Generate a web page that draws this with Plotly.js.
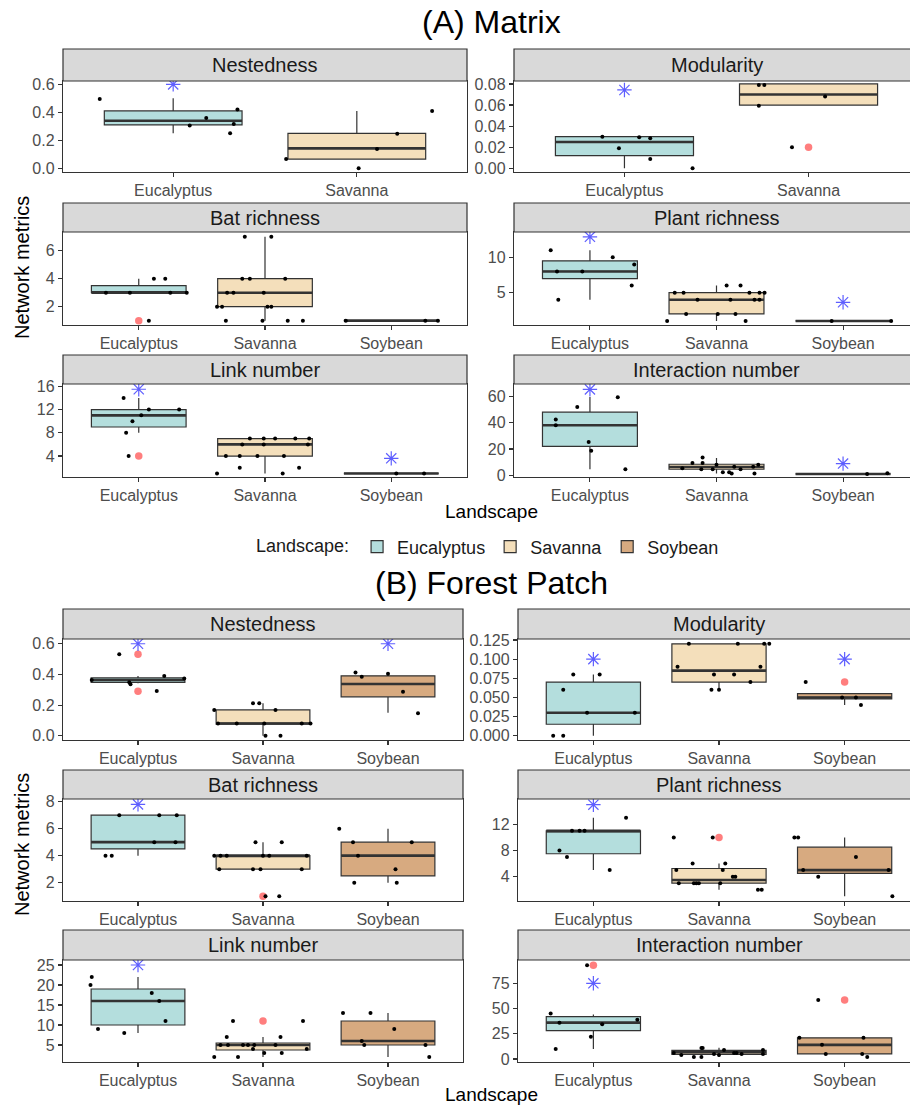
<!DOCTYPE html>
<html><head><meta charset="utf-8">
<script src="https://cdn.plot.ly/plotly-3.0.1.min.js"></script>
<style>html,body{margin:0;padding:0;overflow:hidden;background:#fff;width:910px;height:1106px}#chart{width:921px;height:1106px}</style>
</head><body><div id="chart"></div>
<script>
// ---------------- DATA ----------------
const landscapes = ['Eucalyptus', 'Savanna', 'Soybean'];
const metrics = ['Nestedness', 'Modularity', 'Bat richness', 'Plant richness', 'Link number', 'Interaction number'];
const sectionTitles = ['(A) Matrix', '(B) Forest Patch'];

// (A) Matrix: box statistics per metric, per landscape
const A_q1  = [[0.31, 0.066], [0.012, 0.06], [3, 2, 1], [7, 2, 1], [9, 4, 1], [22, 4.6, 1]];
const A_med = [[0.34, 0.143], [0.025, 0.07], [3, 3, 1], [8, 4, 1], [11, 6, 1], [38, 6.3, 1]];
const A_q3  = [[0.41, 0.25], [0.03, 0.08], [3.5, 4, 1], [9.5, 5, 1], [12, 7, 1], [48, 8.4, 1]];
const A_lo  = [[0.25, 0.066], [0, 0.06], [3, 1, 1], [4, 1, 1], [8, 1, 1], [4.6, 1.3, 1]];
const A_hi  = [[0.5, 0.41], [0.03, 0.08], [4, 7, 1], [11, 6, 1], [14, 7, 1], [59.5, 13.2, 1]];
// (A) jittered observations (x = landscape position incl. jitter)
const A_ptX = [
  [0.60, 1.09, 1.18, 1.33, 1.31, 1.35, 1.615, 2.01, 2.11, 2.22, 2.41],
  [0.88, 0.97, 1.08, 1.14, 1.14, 1.37, 1.73, 1.76, 1.73, 2.09, 1.91],
  [0.74, 0.93, 1.12, 1.21, 1.25, 1.38, 1.08, 1.84, 2.05, 1.82, 1.88, 2.16, 1.70, 1.75, 1.99, 1.62, 1.66, 2.02, 2.05, 1.69, 1.98, 2.18, 2.30, 2.64, 3.27, 3.37],
  [0.69, 0.74, 0.94, 0.75, 1.18, 1.35, 1.33, 1.67, 1.74, 1.85, 2.11, 2.08, 2.19, 2.26, 2.34, 2.38, 2.30, 2.34, 1.76, 2.01, 2.15, 1.61, 2.23, 2.91, 3.38],
  [0.88, 0.95, 0.90, 1.02, 1.08, 1.32, 0.92, 1.62, 1.69, 1.80, 1.94, 2.15, 1.80, 2.27, 2.14, 1.82, 1.99, 2.34, 1.88, 1.99, 2.08, 2.24, 2.35, 3.04, 3.26],
  [0.90, 1.22, 0.73, 0.73, 0.99, 1.01, 1.28, 1.73, 1.81, 1.89, 1.89, 1.88, 1.97, 2.0, 2.05, 2.10, 2.12, 2.14, 2.19, 2.29, 2.30, 2.33, 3.19, 3.35]
];
const A_ptY = [
  [0.495, 0.307, 0.36, 0.316, 0.25, 0.42, 0.066, 0, 0.138, 0.247, 0.41],
  [0.030, 0.019, 0.0294, 0.0285, 0.0088, 0.0, 0.079, 0.079, 0.0594, 0.068, 0.02],
  [3, 3, 4, 4, 3, 3, 1, 7, 7, 4, 4, 4, 3, 3, 3, 2, 2, 2, 2, 1, 1, 1, 1, 1, 1, 1],
  [11, 8, 8, 4, 10, 9, 6, 5, 5, 4, 4, 6, 6, 5, 5, 5, 4, 4, 2, 2, 2, 1, 1, 1, 1],
  [14, 10, 8, 11, 12, 12, 4, 1, 4, 4, 4, 4, 2, 2, 1, 6, 6, 6, 7, 7, 7, 7, 7, 1, 1],
  [52, 59.3, 42.5, 38.1, 25.4, 18.6, 4.6, 5.3, 9.4, 13.5, 9.4, 4.6, 4.6, 8, 2.3, 2.3, 1.3, 6.4, 4.6, 6.4, 1.3, 8, 1, 1.6]
];
const A_outX = [[], [2], [1], [], [1], []];
const A_outY = [[], [0.02], [1], [], [4], []];
const A_starX = [[1], [1], [], [1, 3], [1, 3], [1, 3]];
const A_starY = [[0.6], [0.0743], [], [12.9, 3.64], [15.5, 3.6], [65.3, 8.9]];

// (B) Forest Patch
const B_q1  = [[0.348, 0.076, 0.254], [0.015, 0.07, 0.048], [4.5, 3, 2.5], [7.5, 3, 4.5], [10, 3.75, 5], [28, 4.6, 5]];
const B_med = [[0.363, 0.08, 0.337], [0.03, 0.085, 0.05], [5, 4, 4], [11, 3.5, 5], [16, 5, 6], [36, 6.6, 14]];
const B_q3  = [[0.378, 0.168, 0.391], [0.07, 0.12, 0.055], [7, 4, 5], [11, 5.25, 8.5], [19, 5.5, 11], [42, 8.6, 21]];
const B_lo  = [[0.342, 0, 0.15], [0, 0.06, 0.04], [4, 3, 2], [5, 2, 1], [8, 2, 2], [10, 2, 5]];
const B_hi  = [[0.39, 0.211, 0.41], [0.08, 0.12, 0.055], [7, 5, 6], [13, 6, 10], [22, 7, 13], [44, 11.2, 21]];
const B_ptX = [
  [0.85, 0.63, 0.93, 0.94, 1.15, 1.21, 1.37, 1.61, 1.64, 1.79, 1.92, 1.97, 2.01, 2.02, 2.14, 2.10, 2.31, 2.38, 2.74, 2.79, 3.0, 3.12, 3.24],
  [0.68, 0.76, 0.76, 0.84, 1.05, 0.95, 1.33, 1.76, 2.15, 2.36, 2.40, 1.67, 2.33, 1.96, 2.12, 2.25, 1.94, 2.0, 2.69, 2.98, 3.09, 3.13],
  [0.74, 0.79, 0.85, 1.17, 1.31, 1.13, 1.30, 1.61, 1.66, 1.71, 2.0, 2.05, 2.35, 1.65, 1.92, 1.98, 2.31, 1.94, 2.15, 2.02, 2.13, 2.61, 2.72, 3.19, 2.76, 3.06, 2.73, 3.07],
  [0.83, 0.89, 0.93, 0.73, 0.79, 1.13, 1.26, 1.64, 1.95, 1.79, 2.05, 1.66, 2.03, 2.11, 2.13, 1.68, 1.80, 1.82, 1.84, 2.01, 2.31, 2.34, 2.60, 2.63, 2.67, 2.79, 3.09, 3.35, 3.38],
  [0.63, 0.62, 0.68, 0.89, 1.11, 1.17, 1.22, 1.61, 1.80, 1.76, 2.32, 1.71, 2.14, 1.66, 1.72, 1.84, 1.88, 1.93, 2.10, 1.92, 2.35, 2.01, 2.15, 2.64, 2.86, 3.05, 2.79, 2.81, 3.30, 3.33],
  [0.66, 0.73, 1.07, 1.35, 0.98, 0.70, 0.95, 1.64, 1.70, 1.80, 1.86, 1.86, 1.87, 1.96, 2.0, 2.04, 2.12, 2.14, 2.18, 2.35, 2.35, 2.79, 2.64, 3.15, 2.82, 2.85, 3.14, 3.18]
];
const B_ptY = [
  [0.531, 0.363, 0.348, 0.335, 0.292, 0.39, 0.374, 0.168, 0.08, 0.08, 0.211, 0.211, 0.08, 0, 0, 0.168, 0.08, 0.08, 0.412, 0.384, 0.405, 0.287, 0.146],
  [0, 0, 0.06, 0.08, 0.08, 0.03, 0.03, 0.12, 0.12, 0.12, 0.12, 0.09, 0.09, 0.08, 0.08, 0.07, 0.06, 0.06, 0.07, 0.05, 0.05, 0.04],
  [4, 4, 7, 7, 7, 5, 5, 4, 4, 4, 4, 4, 4, 3, 3, 3, 3, 5, 5, 1, 1, 6, 5, 5, 4, 3, 2, 2],
  [11, 11, 11, 8, 7, 5, 13, 10, 10, 6, 6, 5, 5, 4, 4, 3, 3, 3, 3, 3, 2, 2, 10, 10, 5, 4, 7, 5, 1],
  [22, 20, 9, 8, 18, 16, 11, 2, 2, 11, 11, 7, 7, 5, 5, 5, 5, 5, 5, 4, 4, 3, 3, 13, 13, 9, 6, 5, 5, 2],
  [45, 36, 34.4, 39, 22, 10, 93, 6, 4, 2, 2, 11, 11, 5, 4, 9, 6, 6, 5, 9, 5, 58.5, 21, 21, 14, 5, 5, 2]
];
const B_outX = [[1, 1], [3], [2], [2], [2], [1, 3]];
const B_outY = [[0.531, 0.29], [0.07], [1], [10], [11], [93, 58.5]];
const B_starX = [[1, 3], [1, 3], [1], [1], [1], [1]];
const B_starY = [[0.6, 0.6], [0.1, 0.1], [7.8], [15], [25], [75]];

// tick values per panel
const A_yticks = [[0, 0.2, 0.4, 0.6], [0, 0.02, 0.04, 0.06, 0.08], [2, 4, 6], [5, 10], [4, 8, 12, 16], [0, 20, 40, 60]];
const B_yticks = [[0, 0.2, 0.4, 0.6], [0, 0.025, 0.05, 0.075, 0.1, 0.125], [2, 4, 6, 8], [4, 8, 12], [5, 10, 15, 20, 25], [0, 25, 50, 75]];
const A_ydec = [1, 2, 0, 0, 0, 0];
const B_ydec = [1, 3, 0, 0, 0, 0];

// ---------------- LAYOUT CONFIG (positions / styles) ----------------
const W = 921, H = 1106;
const FONT = 'Liberation Sans, Arial, sans-serif';
const fills = ['#B4DEDD', '#F4DFBB', '#D7AA80'];
const sections = [
  { q1: A_q1, med: A_med, q3: A_q3, lo: A_lo, hi: A_hi, px: A_ptX, py: A_ptY, ox: A_outX, oy: A_outY, sx: A_starX, sy: A_starY,
    yt: A_yticks, yd: A_ydec,
    yr: [[-0.026, 0.624], [-0.0035, 0.0828], [0.69, 7.34], [0.43, 13.58], [0.39, 16.4], [-1.3, 69.4]],
    cols: [[63, 467], [514, 919]], rows: [[81, 172], [232, 325], [384, 477]], strips: [49, 203, 355],
    titleY: 22, xtitleY: 511, ytitleY: 268 },
  { q1: B_q1, med: B_med, q3: B_q3, lo: B_lo, hi: B_hi, px: B_ptX, py: B_ptY, ox: B_outX, oy: B_outY, sx: B_starX, sy: B_starY,
    yt: B_yticks, yd: B_ydec,
    yr: [[-0.028, 0.631], [-0.0056, 0.1263], [0.64, 8.2], [0.28, 15.87], [0.75, 26.25], [-3, 98.1]],
    cols: [[63, 463], [518, 920]], rows: [[639, 740], [799, 901], [960, 1062]], strips: [609, 770, 930],
    titleY: 583, xtitleY: 1094, ytitleY: 845 }
];

const traces = [];
const layout = {
  width: W, height: H, margin: { l: 0, r: 0, t: 0, b: 0 },
  paper_bgcolor: '#fff', plot_bgcolor: '#fff',
  font: { family: FONT, color: '#1A1A1A' },
  showlegend: true, boxmode: 'overlay',
  legend: { orientation: 'h', x: 489 / W, xanchor: 'center', y: 1 - 547 / H, yanchor: 'middle',
            font: { size: 18, family: FONT, color: '#1A1A1A' },
            title: { text: 'Landscape:', side: 'left', font: { size: 18, family: FONT } },
            itemwidth: 30, traceorder: 'normal', bgcolor: 'rgba(0,0,0,0)' },
  shapes: [], annotations: []
};

const legendShown = [false, false, false];
let k = 0;
sections.forEach((S, si) => {
  for (let m = 0; m < metrics.length; m++) {
    k++;
    const xa = 'x' + (k === 1 ? '' : k), ya = 'y' + (k === 1 ? '' : k);
    const xk = 'xaxis' + (k === 1 ? '' : k), yk = 'yaxis' + (k === 1 ? '' : k);
    const row = Math.floor(m / 2), col = m % 2;
    const cx = S.cols[col], ry = S.rows[row];
    const n = S.q1[m].length;
    // boxes
    for (let g = 0; g < n; g++) {
      const show = !legendShown[g];
      legendShown[g] = true;
      traces.push({ type: 'box', x: [g + 1], q1: [S.q1[m][g]], median: [S.med[m][g]], q3: [S.q3[m][g]],
        lowerfence: [S.lo[m][g]], upperfence: [S.hi[m][g]], width: 0.75, whiskerwidth: 0,
        fillcolor: fills[g], line: { color: '#333333', width: 1.2 }, boxpoints: false,
        name: landscapes[g], legendgroup: landscapes[g], showlegend: show, legendrank: g + 1,
        xaxis: xa, yaxis: ya, hoverinfo: 'skip' });
    }
    // thick median lines
    const mx = [], my = [];
    for (let g = 0; g < n; g++) { mx.push(g + 1 - 0.375, g + 1 + 0.375, null); my.push(S.med[m][g], S.med[m][g], null); }
    traces.push({ type: 'scatter', mode: 'lines', x: mx, y: my, line: { color: '#333333', width: 2.6 },
      showlegend: false, xaxis: xa, yaxis: ya, hoverinfo: 'skip' });
    // outliers
    traces.push({ type: 'scatter', mode: 'markers', x: S.ox[m], y: S.oy[m],
      marker: { color: 'rgba(255,40,40,0.6)', size: 7.5, line: { width: 0 } },
      showlegend: false, xaxis: xa, yaxis: ya, hoverinfo: 'skip' });
    // jittered points
    traces.push({ type: 'scatter', mode: 'markers', x: S.px[m], y: S.py[m],
      marker: { color: '#000', size: 4, line: { width: 0 } },
      showlegend: false, xaxis: xa, yaxis: ya, hoverinfo: 'skip' });
    // asterisks
    traces.push({ type: 'scatter', mode: 'markers', x: S.sx[m], y: S.sy[m],
      marker: { symbol: 'asterisk-open', size: 12, color: 'rgba(40,40,255,0.75)', line: { color: 'rgba(40,40,255,0.75)', width: 1.2 } },
      showlegend: false, xaxis: xa, yaxis: ya, hoverinfo: 'skip' });

    const axBase = { showline: true, mirror: true, linecolor: '#333333', linewidth: 1.2, ticks: 'outside', ticklen: 4,
      tickcolor: '#333333', tickwidth: 1.1, showgrid: false, zeroline: false, fixedrange: true,
      tickfont: { size: 16, color: '#4D4D4D', family: FONT } };
    layout[xk] = Object.assign({}, axBase, { domain: [cx[0] / W, cx[1] / W], anchor: ya,
      range: [0.4, n + 0.6], tickmode: 'array', tickvals: landscapes.slice(0, n).map((_, i) => i + 1),
      ticktext: landscapes.slice(0, n) });
    layout[yk] = Object.assign({}, axBase, { domain: [1 - ry[1] / H, 1 - ry[0] / H], anchor: xa,
      range: S.yr[m], tickmode: 'array', tickvals: S.yt[m], ticktext: S.yt[m].map(v => v.toFixed(S.yd[m])) });
    // strip
    layout.shapes.push({ type: 'rect', xref: 'paper', yref: 'paper', x0: cx[0] / W, x1: cx[1] / W,
      y0: 1 - ry[0] / H, y1: 1 - S.strips[row] / H, fillcolor: '#D9D9D9', line: { color: '#333333', width: 1.2 }, layer: 'above' });
    layout.annotations.push({ xref: 'paper', yref: 'paper', x: (cx[0] + cx[1]) / 2 / W, y: 1 - (ry[0] + S.strips[row]) / 2 / H,
      text: metrics[m], showarrow: false, xanchor: 'center', yanchor: 'middle', font: { size: 20, color: '#1A1A1A', family: FONT } });
  }
  layout.annotations.push({ xref: 'paper', yref: 'paper', x: 491 / W, y: 1 - S.titleY / H, text: sectionTitles[si],
    showarrow: false, xanchor: 'center', yanchor: 'middle', font: { size: 32, color: '#000', family: FONT } });
  layout.annotations.push({ xref: 'paper', yref: 'paper', x: 491 / W, y: 1 - S.xtitleY / H, text: 'Landscape',
    showarrow: false, xanchor: 'center', yanchor: 'middle', font: { size: 19, color: '#000', family: FONT } });
  layout.annotations.push({ xref: 'paper', yref: 'paper', x: 22 / W, y: 1 - S.ytitleY / H, text: 'Network metrics',
    showarrow: false, textangle: -90, xanchor: 'center', yanchor: 'middle', font: { size: 20, color: '#000', family: FONT } });
});

Plotly.newPlot('chart', traces, layout, { staticPlot: true, displayModeBar: false });
</script>
</body></html>
